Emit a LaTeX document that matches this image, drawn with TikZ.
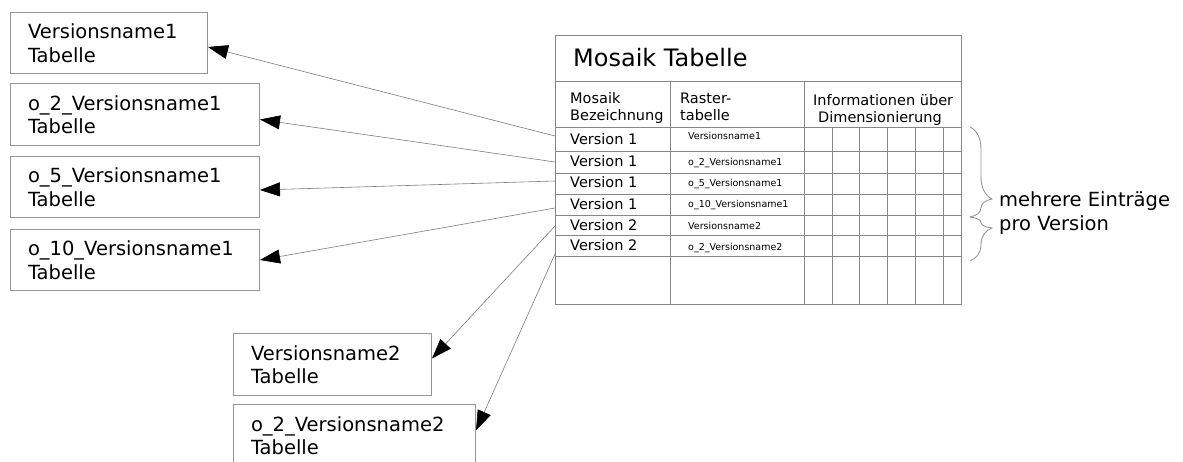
\documentclass[tikz,border=0pt]{standalone}
\usepackage{fontspec}
\setmainfont{DejaVu Sans}
\usetikzlibrary{arrows.meta,decorations.pathreplacing}

\definecolor{framegray}{RGB}{150,150,150}
\definecolor{gridgray}{RGB}{135,135,135}
\definecolor{wiregray}{RGB}{125,125,125}

\tikzset{
  tablebox/.style={draw=framegray, line width=1pt, rectangle, anchor=north west,
    inner xsep=17.5pt, inner ysep=0pt, align=left, font=\fontsize{19.5}{23.5}\selectfont},
  gridline/.style={draw=gridgray, line width=0.9pt},
  bigtext/.style={anchor=base west, inner sep=0pt, font=\fontsize{24}{28}\selectfont},
  cell/.style={anchor=base west, inner sep=0pt, font=\fontsize{14.5}{16.5}\selectfont},
  tiny/.style={anchor=base west, inner sep=0pt, font=\fontsize{9.5}{11}\selectfont},
  note/.style={anchor=base west, inner sep=0pt, font=\fontsize{19.5}{23.5}\selectfont},
  link/.style={draw=wiregray, line width=0.6pt,
    -{Triangle[length=20pt,width=14pt,fill=black,color=black]}},
  bracepath/.style={draw=framegray, line width=0.9pt,
    decorate, decoration={brace, amplitude=22pt}},
}

\begin{document}
\begin{tikzpicture}[x=1pt, y=-1pt]
  \clip (0,0) rectangle (1183,462);
  \fill[white] (0,0) rectangle (1183,462);

  % target tables on the left and below
  \node[tablebox, text width=162pt, minimum height=61pt] (b1) at (10,12)
    {Versionsname1\\Tabelle};
  \node[tablebox, text width=214pt, minimum height=62pt] (b2) at (10,83)
    {o\_2\_Versionsname1\\Tabelle};
  \node[tablebox, text width=214pt, minimum height=61pt] (b3) at (10,156)
    {o\_5\_Versionsname1\\Tabelle};
  \node[tablebox, text width=214pt, minimum height=61pt] (b4) at (10,229)
    {o\_10\_Versionsname1\\Tabelle};
  \node[tablebox, text width=163pt, minimum height=62pt] (b5) at (233,333)
    {Versionsname2\\Tabelle};
  \node[tablebox, text width=207pt, minimum height=62pt] (b6) at (233,404)
    {o\_2\_Versionsname2\\Tabelle};

  % mosaic table frame and grid
  \draw[gridline] (555,35) rectangle (961,304);
  \draw[gridline] (555,81) -- (961,81);
  \foreach \y in {127,151,173,194,215,235,256}
    \draw[gridline] (555,\y) -- (961,\y);
  \draw[gridline] (670.5,81) -- (670.5,304);
  \draw[gridline] (804,81) -- (804,304);
  \foreach \x in {832,859,887,915,943}
    \draw[gridline] (\x,127) -- (\x,304);

  % headings
  \node[bigtext] (title) at (573,67) {Mosaik Tabelle};
  \node[cell] (h1a) at (570,104) {Mosaik};
  \node[cell] (h1b) at (570,121) {Bezeichnung};
  \node[cell] (h2a) at (680,104) {Raster-};
  \node[cell] (h2b) at (680,121) {tabelle};
  \node[cell] (h3a) at (813,106) {Informationen über};
  \node[cell] (h3b) at (818,123) {Dimensionierung};

  % rows
  \node[cell] (v1) at (570,145) {Version 1};
  \node[cell] (v2) at (570,167) {Version 1};
  \node[cell] (v3) at (570,188) {Version 1};
  \node[cell] (v4) at (570,210) {Version 1};
  \node[cell] (v5) at (570,231) {Version 2};
  \node[cell] (v6) at (570,251) {Version 2};

  \node[tiny] (r1) at (688,139.5) {Versionsname1};
  \node[tiny] (r2) at (688,166) {o\_2\_Versionsname1};
  \node[tiny] (r3) at (688,187) {o\_5\_Versionsname1};
  \node[tiny] (r4) at (688,207.5) {o\_10\_Versionsname1};
  \node[tiny] (r5) at (688,230) {Versionsname2};
  \node[tiny] (r6) at (688,251) {o\_2\_Versionsname2};

  % link sources on the left edge of the mosaic table
  \coordinate (s1) at (555,136);
  \coordinate (s2) at (555,162);
  \coordinate (s3) at (555,181);
  \coordinate (s4) at (555,208);
  \coordinate (s5) at (555,226);
  \coordinate (s6) at (555,254);

  \draw[link] (s1) -- ([yshift=-4pt]b1.east);
  \draw[link] (s2) -- ([yshift=-5pt]b2.east);
  \draw[link] (s3) -- ([yshift=-3pt]b3.east);
  \draw[link] (s4) -- (b4.east);
  \draw[link] (s5) -- ([yshift=6pt]b5.east);
  \draw[link] (s6) -- ([yshift=5pt]b6.east);

  % braces marking the repeated entries
  \coordinate (ba) at (970,127);
  \coordinate (bb) at (970,217);
  \coordinate (bc) at (970,261);
  \draw[bracepath, decoration={aspect=0.8}] (ba) -- (bb);
  \draw[bracepath, decoration={aspect=0.25}] (bb) -- (bc);

  \node[note] (n1) at (999,207) {mehrere Einträge};
  \node[note] (n2) at (999,230.5) {pro Version};
\end{tikzpicture}
\end{document}
